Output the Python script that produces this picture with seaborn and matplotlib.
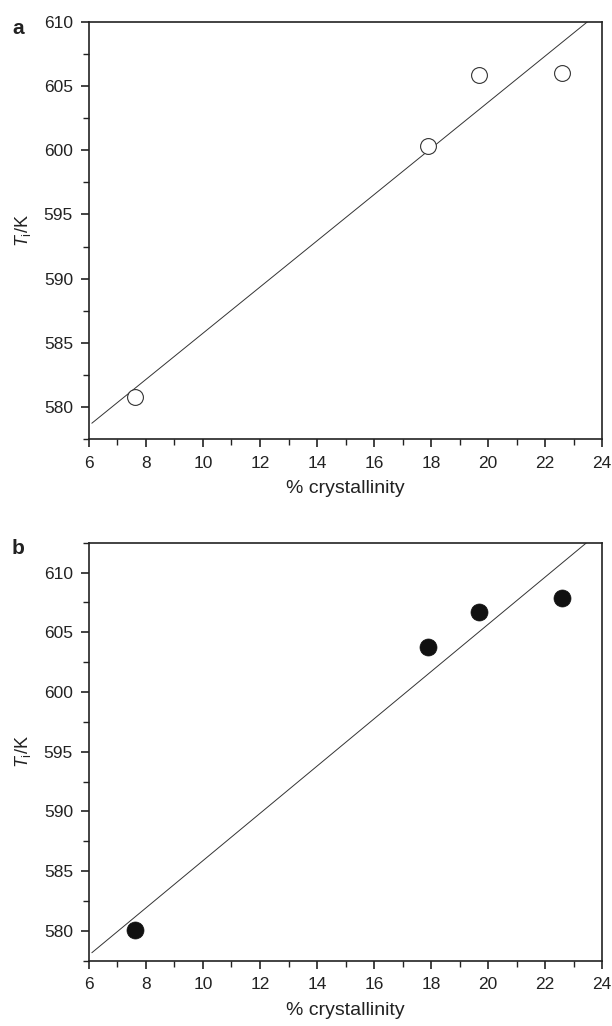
import numpy as np
import pandas as pd
import seaborn as sns
import matplotlib.pyplot as plt
from matplotlib.ticker import MultipleLocator

# valores
cristalinidade = [7.6, 17.9, 19.7, 22.6]
Ti_a = [580.8, 600.3, 605.9, 606.0]
Ti_b = [580.1, 603.8, 606.7, 607.9]

sns.set_style("ticks")
plt.rcParams['font.family'] = ['Liberation Sans', 'DejaVu Sans']
plt.rcParams['mathtext.fontset'] = 'custom'
plt.rcParams['mathtext.rm'] = 'Liberation Sans'
plt.rcParams['mathtext.it'] = 'Liberation Sans:italic'

dados_a = pd.DataFrame({'x': cristalinidade, 'y': Ti_a})
dados_b = pd.DataFrame({'x': cristalinidade, 'y': Ti_b})

fig = plt.figure(figsize=(6.12, 10.26), dpi=100)
ax_a = fig.add_axes([0.1454, 0.5721, 0.8383, 0.4065])
ax_b = fig.add_axes([0.1454, 0.0636, 0.8383, 0.4075])


def desenha(ax, dados, ylim, cheio, letra):
    ax.set_xlim(6.1, 24)
    ax.set_ylim(*ylim)
    # linha de regressao
    sns.regplot(data=dados, x='x', y='y', ax=ax, scatter=False, ci=None,
                truncate=False, line_kws={'color': '#333333', 'lw': 0.7})
    if cheio:
        sns.scatterplot(data=dados, x='x', y='y', ax=ax, s=150, color='#111111',
                        edgecolor='#111111', linewidth=0.5, zorder=3)
    else:
        sns.scatterplot(data=dados, x='x', y='y', ax=ax, s=130, facecolor='white',
                        edgecolor='#333333', linewidth=0.8, zorder=3)
    ax.set_xlim(6, 24)
    ax.set_ylim(*ylim)
    ax.xaxis.set_major_locator(MultipleLocator(2))
    ax.xaxis.set_minor_locator(MultipleLocator(1))
    ax.yaxis.set_major_locator(MultipleLocator(5))
    ax.yaxis.set_minor_locator(MultipleLocator(2.5))
    ax.tick_params(which='major', length=6, width=1.2, labelsize=12.5, direction='out',
                   colors='#222222')
    ax.tick_params(axis='y', which='major', pad=5.5)
    ax.tick_params(axis='x', which='major', pad=6)
    ax.tick_params(which='minor', length=4, width=1.0, direction='out', colors='#222222')
    for s in ax.spines.values():
        s.set_linewidth(1.2)
        s.set_color('#222222')
    ax.set_xlabel('% crystallinity', fontsize=14, labelpad=7, color='#222222')
    ax.set_ylabel(r'$T_{\mathrm{i}}$/K', fontsize=13, labelpad=8, color='#222222')
    ax.text(-0.15, 1.008, letra, transform=ax.transAxes, fontsize=15, fontweight='bold',
            va='top', ha='left', color='#222222')


desenha(ax_a, dados_a, (577.5, 610), False, 'a')
desenha(ax_b, dados_b, (577.5, 612.5), True, 'b')

plt.savefig('out.png', dpi=100)
